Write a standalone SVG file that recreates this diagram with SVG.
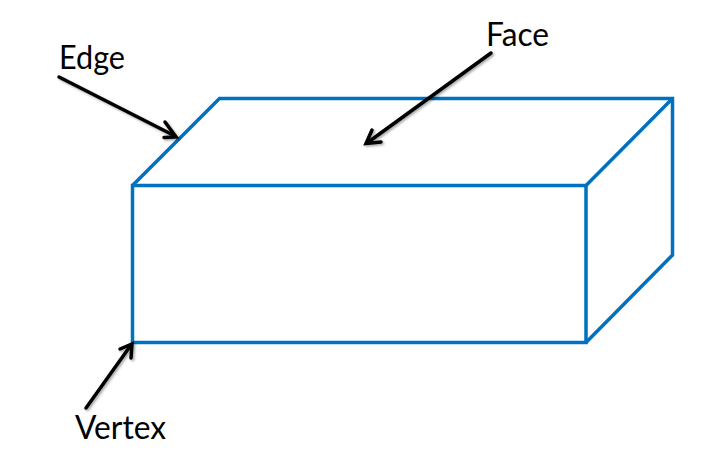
<svg xmlns="http://www.w3.org/2000/svg" width="717" height="461" viewBox="0 0 717 461">
<style>
.box{fill:none;stroke:#0070c0;stroke-width:3.5;stroke-linejoin:miter}
.arr{fill:none;stroke:#000;stroke-width:3.5;stroke-linecap:round}
.head{fill:none;stroke:#000;stroke-width:3.5;stroke-linecap:round;stroke-linejoin:miter}
text{font-family:"Lato","Liberation Sans",sans-serif;font-size:32px;fill:#000}
</style>
<defs>
<filter id="sh" x="-20%" y="-20%" width="140%" height="140%"><feDropShadow dx="1.5" dy="1.5" stdDeviation="1.2" flood-color="#000" flood-opacity="0.35"/></filter>
</defs>
<rect width="717" height="461" fill="#fff"/>
<g id="box">
<path class="box" d="M132.500 185.500H586V342.500H132.500Z"/>
<path class="box" d="M132.500 185.500L219.500 98.500H672.500V255L586 342.500"/>
<path class="box" d="M586 185.500L672.500 98.500"/>
</g>
<g id="connectors" filter="url(#sh)">
<path class="arr" d="M59 77L175 136"/>
<path class="head" d="M165 122L176 137L164 137.500"/>
<path class="arr" d="M491 53L367 143"/>
<path class="head" d="M372 130L366 143.500L381 142"/>
<path class="arr" d="M86 408L131 345"/>
<path class="head" d="M120 349L132 344L131 358"/>
</g>
<g id="label-edge"><text x="59" y="69" textLength="66" lengthAdjust="spacingAndGlyphs">Edge</text></g>
<g id="label-face"><text x="486" y="46" textLength="63" lengthAdjust="spacingAndGlyphs">Face</text></g>
<g id="label-vertex"><text x="75" y="439" textLength="91" lengthAdjust="spacingAndGlyphs">Vertex</text></g>
</svg>
